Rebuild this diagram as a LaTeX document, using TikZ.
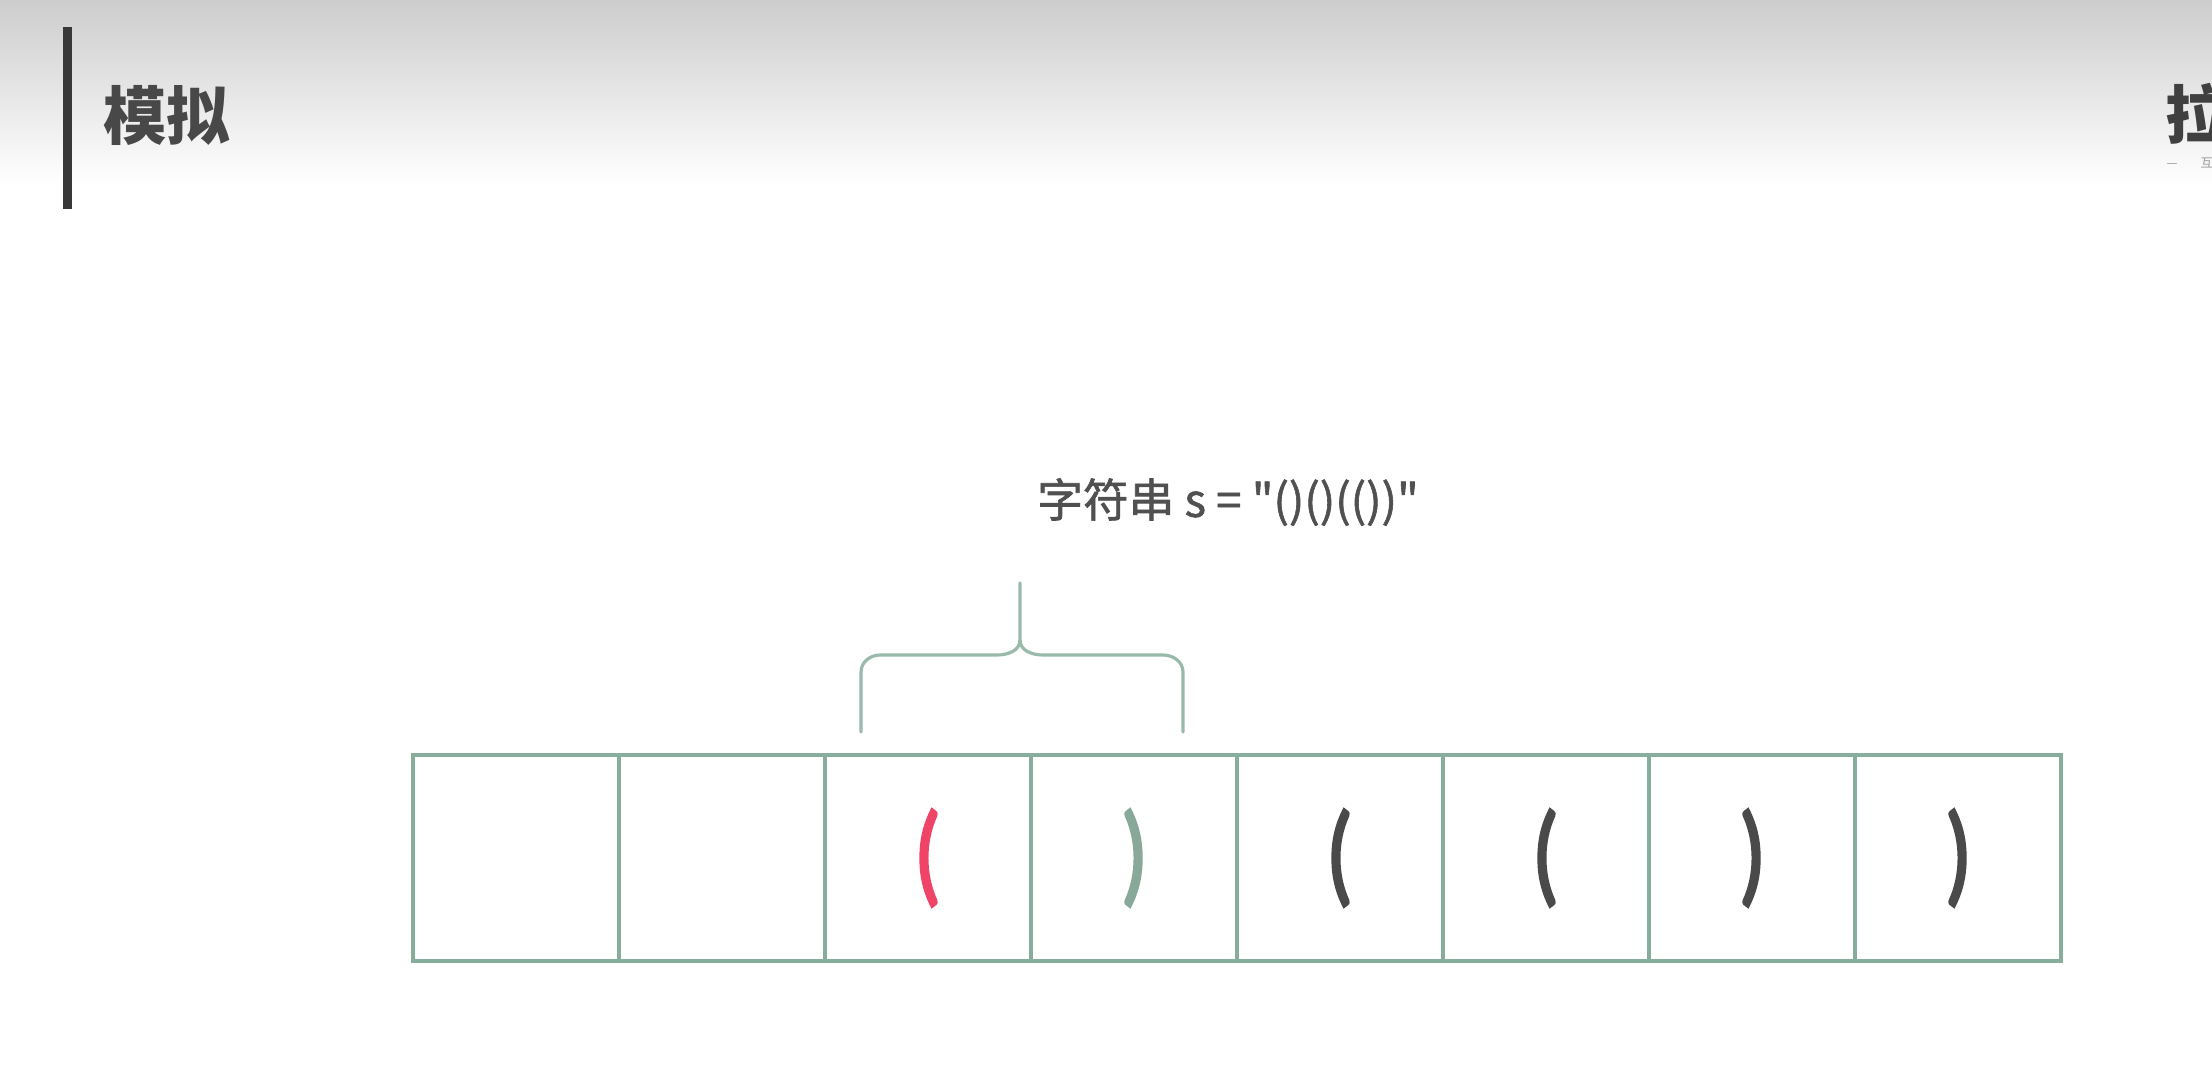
\documentclass[tikz,border=0pt]{standalone}
\usepackage{fontspec}
\setmainfont{Noto Sans CJK SC}
\newfontfamily\labelfont[FakeBold=1.3]{Noto Sans CJK SC}
\newfontfamily\parenfont[FakeStretch=0.78, FakeBold=2.6]{Lato}
\usetikzlibrary{positioning}
\definecolor{cellgreen}{RGB}{135,173,156}
\definecolor{parenred}{RGB}{240,67,104}
\definecolor{parengreen}{RGB}{136,168,154}
\definecolor{parengray}{RGB}{74,74,74}
\definecolor{textgray}{RGB}{80,80,80}
\definecolor{headgray}{RGB}{205,205,205}

\begin{document}
\begin{tikzpicture}[node distance=2.06cm]
    % Define block styles
    \tikzstyle{cell} = [rectangle, draw=cellgreen, line width=1.1pt, minimum size=2.06cm,
        inner sep=0pt, outer sep=0pt, text=parengray, font=\parenfont\fontsize{30}{30}\selectfont]
    \tikzstyle{brace} = [draw=cellgreen!85, line width=0.9pt, line cap=round, line join=round]
    \tikzstyle{title} = [anchor=west, inner sep=0pt, text=textgray!90!black, font=\fontsize{18}{18}\selectfont\bfseries]

    % Page and header
    \useasboundingbox (0,0) rectangle (22.12,-10.73);
    \fill[white] (0,0) rectangle (22.12,-10.73);
    \shade[top color=headgray, bottom color=white] (0,0) rectangle (22.12,-1.85);
    \fill[black!78] (0.63,-0.27) rectangle (0.72,-2.09);
    \node [title] (head) at (1.03,-1.15) {模拟};
    \node [title, text=black!75] (logo) at (21.65,-1.14) {拉};
    \node [anchor=west, inner sep=0pt, text=black!40, font=\fontsize{3.5}{3.5}\selectfont]
        (slogan) at (21.66,-1.63) {—\hspace{2.3mm}互};

    % String label
    \node [text=textgray, font=\labelfont\fontsize{13}{13}\selectfont] (str) at (12.28,-5.02)
        {字符串 s = \symbol{34}()()(())\symbol{34}};

    % Define cells
    \node [cell] (c1) at (5.16,-8.58) {};
    \node [cell, right of=c1] (c2) {};
    \node [cell, right of=c2, text=parenred] (c3) {(};
    \node [cell, right of=c3, text=parengreen] (c4) {)};
    \node [cell, right of=c4] (c5) {(};
    \node [cell, right of=c5] (c6) {(};
    \node [cell, right of=c6] (c7) {)};
    \node [cell, right of=c7] (c8) {)};

    % Brace over the first pair
    \path [brace] (8.61,-7.32) -- (8.61,-6.72) to[out=90,in=180] (8.80,-6.55) -- (9.97,-6.55)
        to[out=0,in=-90] (10.2,-6.40) -- (10.2,-5.83);
    \path [brace] (10.2,-6.40) to[out=-90,in=180] (10.43,-6.55) -- (11.63,-6.55)
        to[out=0,in=90] (11.83,-6.72) -- (11.83,-7.32);
\end{tikzpicture}
\end{document}
